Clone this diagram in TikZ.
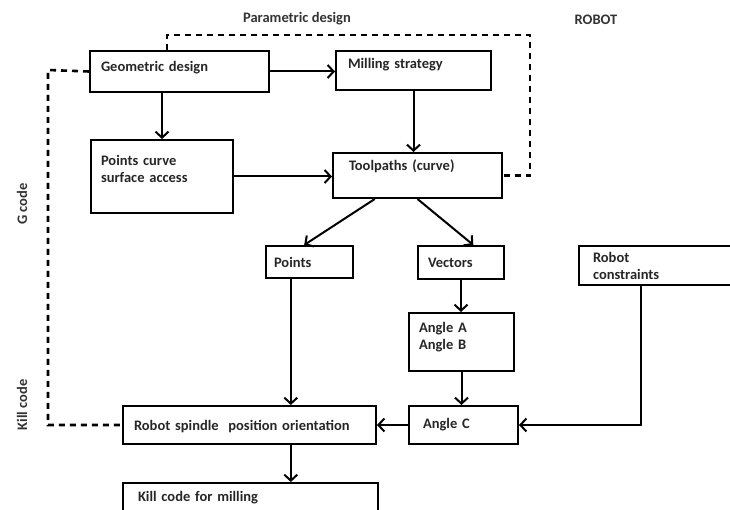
\documentclass[tikz,border=0pt]{standalone}
\usepackage{fontspec}
\setmainfont{Carlito}
\usetikzlibrary{arrows.meta,calc}
\tikzset{
  box/.style={draw, line width=2pt, anchor=north west, inner xsep=11pt, inner ysep=0pt, align=left, font=\bfseries\fontsize{14.5}{17}\selectfont, text=black!85},
  arr/.style={line width=2pt, -{Straight Barb[length=6pt,width=13pt,line width=2pt]}},
  dashline/.style={line width=2.6pt, dash pattern=on 6pt off 5pt},
  lbl/.style={font=\bfseries\fontsize{14.5}{17}\selectfont, text=black!80}
}
\newcommand{\lowpad}[1]{\rule[-#1]{0pt}{0pt}}
\begin{document}
\begin{tikzpicture}[x=1pt,y=-1pt]
                    \clip (0,0) rectangle (730,510);
                    \node[box, text width=157pt, minimum height=41pt, text depth=11pt] (geo) at (89,50) {Geometric design};
                    \node[box, text width=131pt, minimum height=39pt, inner xsep=12pt, text depth=15pt] (mill) at (335,50) {Milling strategy};
                    \node[box, text width=122pt, minimum height=73pt, inner xsep=10pt] (pcs) at (90,139) {Points curve\\surface access\lowpad{16pt}};
                    \node[box, text width=137pt, minimum height=45pt, inner xsep=16pt, text depth=20pt] (tool) at (332,152) {Toolpaths (curve)};
                    \node[box, text width=71pt, minimum height=32pt, inner xsep=8pt] (pts) at (265,245) {Points};
                    \node[box, text width=66pt, minimum height=33pt, inner xsep=10pt] (vec) at (417,245) {Vectors};
                    \node[box, text width=142pt, minimum height=39pt, inner xsep=14pt] (rcon) at (578,245) {Robot\\constraints};
                    \node[box, text width=85pt, minimum height=58pt, inner xsep=10pt] (angab) at (408,312) {Angle A\\Angle B\lowpad{13pt}};
                    \node[box, text width=81pt, minimum height=38pt, inner xsep=14pt] (angc) at (408,405) {Angle C};
                    \node[box, text width=231pt, minimum height=38pt, text depth=0pt] (spin) at (122,405) {Robot spindle\ \ position orientation};
                    \node[box, text width=225pt, minimum height=40pt, inner xsep=15pt, text depth=13pt] (kill) at (122,482) {Kill code for milling};
                    \node[lbl] (param) at (297,19) {Parametric design};
                    \node[lbl] (robot) at (596,20) {ROBOT};
                    \node[lbl, rotate=90] (gcode) at (22,204) {G code};
                    \node[lbl, rotate=90] (kcode) at (22,405) {Kill code};
                    \coordinate (pl) at (167,35);
                    \coordinate (pr) at (530,35);
                    \coordinate (gl) at (48,70);
                    \draw[dashline] (pl |- geo.north) -- (pl) -- (pr) |- (tool.east);
                    \draw[dashline] (geo.west) -- (gl) |- (spin.west);
                    \draw[arr] (geo.east) -- (geo.east -| mill.west);
                    \draw[arr] (geo.south -| pcs.north) -- (pcs.north);
                    \draw[arr] (pcs.east) -- (pcs.east -| tool.west);
                    \draw[arr] (mill.south) -- (mill.south |- tool.north);
                    \draw[arr] ($(tool.south west)!0.25!(tool.south east)$) -- ($(pts.north west)!0.44!(pts.north east)$);
                    \draw[arr] (tool.south) -- ($(vec.north west)!0.64!(vec.north east)$);
                    \coordinate (pd) at ($(pts.south west)!0.29!(pts.south east)$);
                    \draw[arr] (pd) -- (pd |- spin.north);
                    \draw[arr] (vec.south) -- (vec.south |- angab.north);
                    \draw[arr] (angab.south) -- (angab.south |- angc.north);
                    \draw[arr] (angc.west) -- (spin.east);
                    \draw[arr] ($(rcon.south west)!0.365!(rcon.south east)$) |- (angc.east);
                    \draw[arr] (spin.south -| pd) -- (kill.north -| pd);
                \end{tikzpicture}
\end{document}
